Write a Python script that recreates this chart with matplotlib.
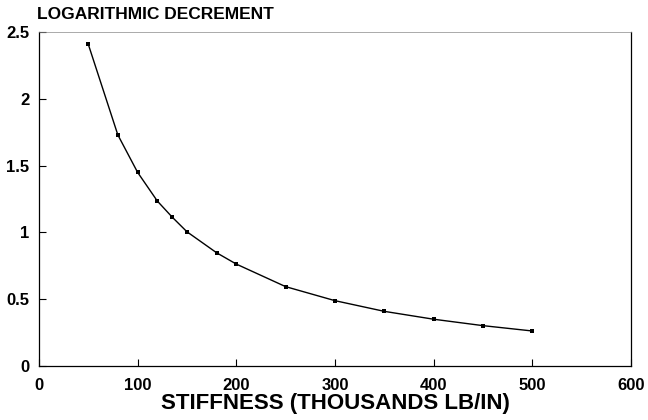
import matplotlib.pyplot as plt
import numpy as np

# stiffness (thousands lb/in) vs logarithmic decrement
stiffness = [50, 80, 100, 120, 135, 150, 180, 200, 250, 300, 350, 400, 450, 500]
log_decrement = [2.41, 1.73, 1.45, 1.235, 1.115, 1.005, 0.848, 0.763, 0.594,
                 0.489, 0.409, 0.35, 0.302, 0.262]

x_ticks = [0, 100, 200, 300, 400, 500, 600]
y_ticks = [0, 0.5, 1, 1.5, 2, 2.5]
y_tick_labels = ['0', '0.5', '1', '1.5', '2', '2.5']

plt.rcParams['font.family'] = ['Liberation Sans', 'DejaVu Sans']
plt.rcParams['font.weight'] = 'bold'

fig = plt.figure(figsize=(6.48, 4.2), dpi=100)
ax = fig.add_axes([0.060, 0.1286, 0.914, 0.795])

ax.plot(stiffness, log_decrement, color='black', lw=1.0,
        marker='s', markersize=2.5, markerfacecolor='black', markeredgewidth=0)

ax.set_xlim(0, 600)
ax.set_ylim(0, 2.5)
ax.set_xticks(x_ticks)
ax.set_yticks(y_ticks)
ax.set_yticklabels(y_tick_labels)
ax.tick_params(direction='in', length=5, width=0.8, labelsize=12)
ax.tick_params(axis='x', pad=9)
ax.tick_params(axis='y', pad=7)
for lbl in ax.get_xticklabels() + ax.get_yticklabels():
    lbl.set_fontweight('bold')

for side in ['left', 'bottom', 'right', 'top']:
    ax.spines[side].set_linewidth(0.9)
ax.spines['top'].set_color('#888888')
ax.spines['top'].set_linewidth(0.5)

ax.set_xlabel('STIFFNESS (THOUSANDS LB/IN)', fontsize=16, fontweight='bold', labelpad=0)
fig.text(0.057, 0.948, 'LOGARITHMIC DECREMENT', fontsize=12.5, fontweight='bold',
         ha='left', va='bottom')

fig.savefig('out.png', dpi=100)
